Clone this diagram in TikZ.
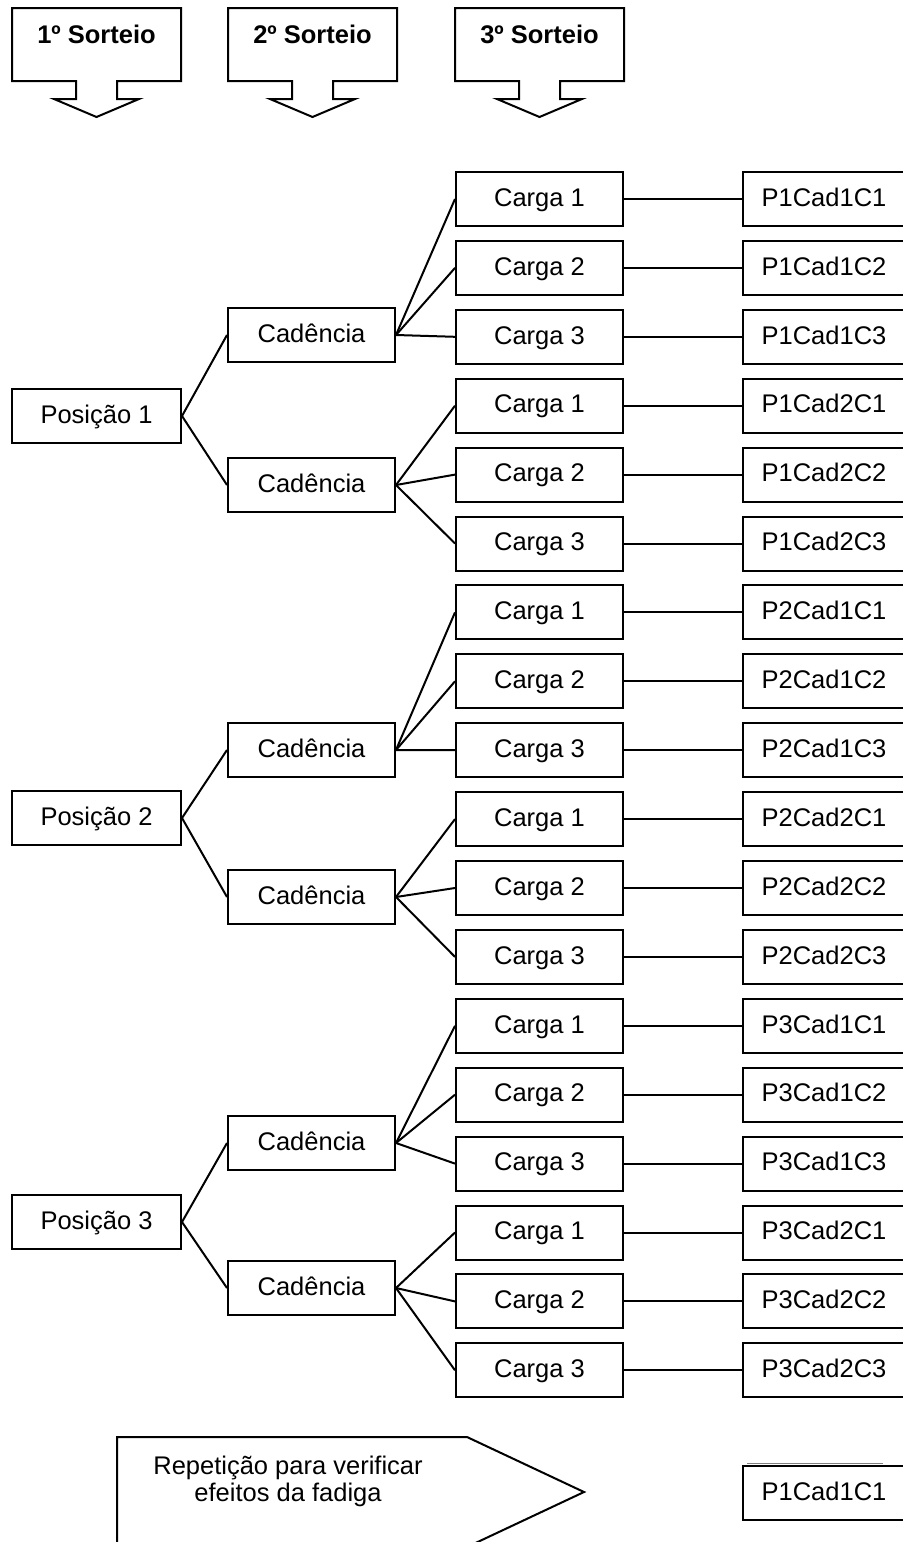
\documentclass[tikz,border=0pt]{standalone}
\usepackage{fontspec}
\setmainfont{Liberation Sans}
\usetikzlibrary{calc}

\begin{document}
\begin{tikzpicture}[x=0.5pt,y=-0.5pt]
        \tikzset{caixa/.style={draw, line width=1pt, inner sep=0pt, minimum height=27pt, minimum width=83.5pt, text height=9.2pt, text depth=2pt, font=\fontsize{12.75}{15}\selectfont}}
        \tikzset{liga/.style={line width=1pt}}
        \useasboundingbox (0,0) rectangle (903,1542);
        \clip (0,0) rectangle (903,1542);

        % sorteios
        \foreach \cx/\k in {96.5/1, 312.5/2, 539.5/3}{
            \draw[liga] (\cx-84.5,8) -- (\cx+84.5,8) -- (\cx+84.5,81) -- (\cx+20.5,81) -- (\cx+20.5,99) -- (\cx+42.5,99)
                -- (\cx,117) -- (\cx-42.5,99) -- (\cx-20.5,99) -- (\cx-20.5,81) -- (\cx-84.5,81) -- cycle;
            \node[font=\fontsize{12.75}{15}\selectfont\bfseries] (sorteio\k) at (\cx,34) {\k º Sorteio};
        }

        % posicoes, cadencias e cargas
        \foreach \g/\ya/\yb/\yp in {1/335/485/416, 2/750/897/818, 3/1143/1288/1222}{
            \node[caixa, minimum width=84.5pt] (pos\g) at (96.5,\yp) {Posição \g};
            \node[caixa] (cad\g1) at (311.5,\ya) {Cadência};
            \node[caixa] (cad\g2) at (311.5,\yb) {Cadência};
            \draw[liga] (pos\g.east) -- (cad\g1.west);
            \draw[liga] (pos\g.east) -- (cad\g2.west);
            \foreach \c in {1,2}{
                \foreach \r in {1,2,3}{
                    \pgfmathsetmacro\yrow{199+68.9*(6*(\g-1)+3*(\c-1)+\r-1)}
                    \node[caixa] (carga\g\c\r) at (539.5,\yrow) {Carga \r};
                    \node[caixa, minimum width=81pt] (p\g\c\r) at (824,\yrow) {P\g Cad\c C\r};
                    \draw[liga] (cad\g\c.east) -- (carga\g\c\r.west);
                    \draw[liga] (carga\g\c\r.east) -- (p\g\c\r.west);
                }
            }
        }

        % repeticao
        \draw[liga] (117,1437) -- (467,1437) -- (584,1492) -- (467,1547) -- (117,1547) -- cycle;
        \node[align=center, font=\fontsize{12.75}{13.5}\selectfont] (repet) at (288,1481) {Repetição para verificar\\efeitos da fadiga};
        \draw[line width=0.4pt, gray] (747,1463) -- (883,1463);
        \node[caixa, minimum width=81pt] (pfim) at (824,1493) {P1Cad1C1};
\end{tikzpicture}
\end{document}
